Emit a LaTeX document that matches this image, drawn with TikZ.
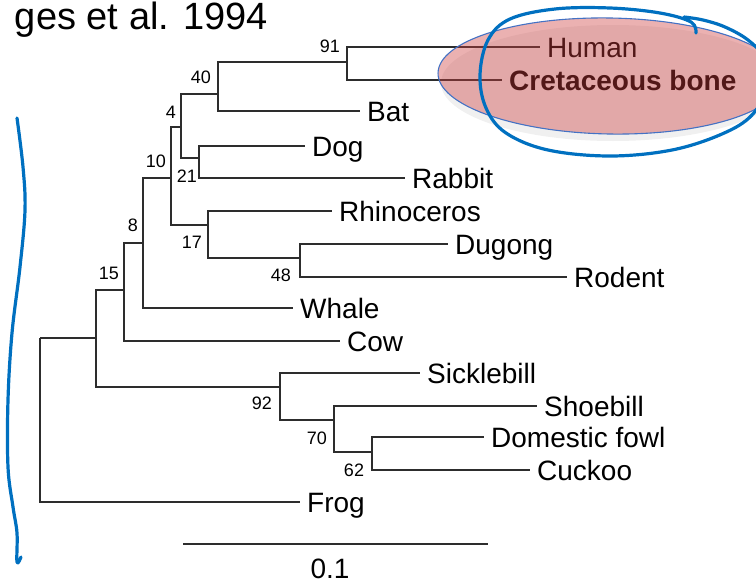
\documentclass[tikz,border=0pt]{standalone}
\usepackage{fontspec}
\setmainfont{Liberation Sans}
\usetikzlibrary{shapes.geometric}

\definecolor{penBlue}{RGB}{0, 112, 192}
\definecolor{markRed}{RGB}{205, 60, 60}
\definecolor{rimBlue}{RGB}{68, 114, 196}
\definecolor{treeGray}{RGB}{45, 45, 45}

\begin{document}
\begin{tikzpicture}[
    x=1pt, y=-1pt,
    branch/.style={draw=treeGray, line width=1.2pt},
    leaf/.style={anchor=west, inner xsep=7pt, inner ysep=0pt, text height=20pt,
                 text depth=0pt, font=\fontsize{28}{30}\selectfont},
    boot/.style={inner sep=0pt, text height=13pt, text depth=0pt,
                 font=\fontsize{18}{20}\selectfont},
    pen/.style={draw=penBlue, line width=3.2pt, line cap=round, line join=round}
  ]
    \useasboundingbox (0,0) rectangle (756,584);

    % Title
    \node[anchor=base east, inner sep=0pt, font=\fontsize{38}{40}\selectfont] (title)
      at (268,29) {ges et al. 1994};

    % Shadow under the highlight
    \node[ellipse, fill=black, fill opacity=0.06, minimum width=344pt,
          minimum height=116pt, inner sep=0pt] (shade) at (613,83) {};

    % Internal nodes
    \coordinate (root) at (40,338);
    \coordinate (nA) at (96,338);
    \coordinate (n15) at (124,290);
    \coordinate (n8) at (143,243);
    \coordinate (n10) at (171,178);
    \coordinate (n4) at (181,127);
    \coordinate (n40) at (218,94);
    \coordinate (n91) at (347,62);
    \coordinate (n21) at (199,158);
    \coordinate (n17) at (208,225);
    \coordinate (n48) at (300,258);
    \coordinate (n92) at (280,387);
    \coordinate (n70) at (334,420);
    \coordinate (n62) at (372,452);

    % Leaves
    \node[leaf] (human) at (540,47) {Human};
    \node[leaf, font=\fontsize{28}{30}\selectfont\bfseries] (bone) at (502,80) {Cretaceous bone};
    \node[leaf] (bat) at (360,111) {Bat};
    \node[leaf] (dog) at (305,146) {Dog};
    \node[leaf] (rabbit) at (405,178) {Rabbit};
    \node[leaf] (rhino) at (332,211) {Rhinoceros};
    \node[leaf] (dugong) at (448,244) {Dugong};
    \node[leaf] (rodent) at (567,277) {Rodent};
    \node[leaf] (whale) at (293,308) {Whale};
    \node[leaf] (cow) at (340,341) {Cow};
    \node[leaf] (sicklebill) at (420,373) {Sicklebill};
    \node[leaf] (shoebill) at (537,406) {Shoebill};
    \node[leaf] (fowl) at (484,437) {Domestic fowl};
    \node[leaf] (cuckoo) at (530,470) {Cuckoo};
    \node[leaf] (frog) at (300,502) {Frog};

    % Branches
    \draw[branch] (root) |- (nA);
    \draw[branch] (root) |- (frog);
    \draw[branch] (nA) |- (n15);
    \draw[branch] (nA) |- (n92);
    \draw[branch] (n15) |- (n8);
    \draw[branch] (n15) |- (cow);
    \draw[branch] (n8) |- (n10);
    \draw[branch] (n8) |- (whale);
    \draw[branch] (n10) |- (n4);
    \draw[branch] (n10) |- (n17);
    \draw[branch] (n4) |- (n40);
    \draw[branch] (n4) |- (n21);
    \draw[branch] (n40) |- (n91);
    \draw[branch] (n40) |- (bat);
    \draw[branch] (n91) |- (human);
    \draw[branch] (n91) |- (bone);
    \draw[branch] (n21) |- (dog);
    \draw[branch] (n21) |- (rabbit);
    \draw[branch] (n17) |- (rhino);
    \draw[branch] (n17) |- (n48);
    \draw[branch] (n48) |- (dugong);
    \draw[branch] (n48) |- (rodent);
    \draw[branch] (n92) |- (sicklebill);
    \draw[branch] (n92) |- (n70);
    \draw[branch] (n70) |- (shoebill);
    \draw[branch] (n70) |- (n62);
    \draw[branch] (n62) |- (fowl);
    \draw[branch] (n62) |- (cuckoo);

    % Bootstrap values
    \node[boot] (b91) at (330,46) {91};
    \node[boot] (b40) at (201,77) {40};
    \node[boot] (b4) at (171,112) {4};
    \node[boot] (b10) at (156,161) {10};
    \node[boot] (b21) at (187,176) {21};
    \node[boot] (b8) at (133,225) {8};
    \node[boot] (b17) at (192,242) {17};
    \node[boot] (b48) at (281,275) {48};
    \node[boot] (b15) at (109,273) {15};
    \node[boot] (b92) at (262,403) {92};
    \node[boot] (b70) at (317,438) {70};
    \node[boot] (b62) at (354,470) {62};

    % Scale bar
    \coordinate (barL) at (183,544);
    \coordinate (barR) at (488,544);
    \draw[branch] (barL) -- (barR);
    \node[leaf, anchor=center, inner xsep=0pt] (scale) at (330,568) {0.1};

    % Highlight over Human / Cretaceous bone
    \node[ellipse, draw=rimBlue, line width=1.1pt, fill=markRed, fill opacity=0.4,
          minimum width=344pt, minimum height=116pt, inner sep=0pt, rotate=-1]
      (highlight) at (610,76) {};

    % Pen marks
    \draw[pen] plot[smooth, tension=0.6] coordinates {(696,33) (691,22) (660,13)
      (610,8) (555,9) (510,19) (488,40) (480,75) (486,108) (506,133) (548,150)
      (610,156) (672,150) (722,134) (752,115) (768,85) (764,58) (748,40) (725,27)
      (703,20) (684,17)};
    \draw[pen] plot[smooth, tension=0.6] coordinates {(17,118) (23,167) (25,210)
      (20,267) (12,333) (8,400) (8,467) (13,507) (17,533) (17,562) (21,557)};
  \end{tikzpicture}
\end{document}
